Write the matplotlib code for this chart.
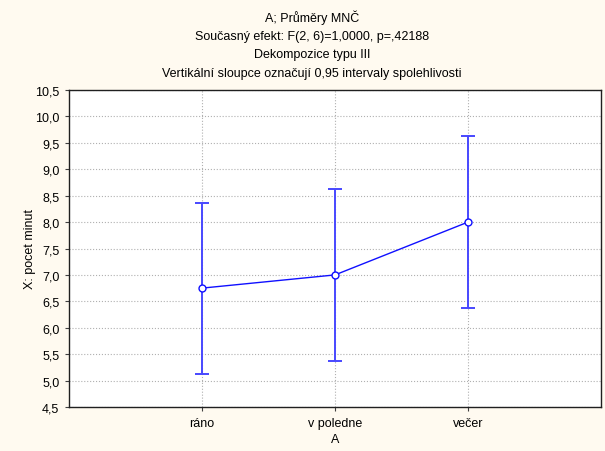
import matplotlib
matplotlib.use("Agg")
import matplotlib.pyplot as plt

# data
categories = ["ráno", "v poledne", "večer"]
means = [6.75, 7.0, 8.0]
ci_low = [5.13, 5.38, 6.38]
ci_high = [8.37, 8.62, 9.62]
yticks = [4.5, 5.0, 5.5, 6.0, 6.5, 7.0, 7.5, 8.0, 8.5, 9.0, 9.5, 10.0, 10.5]

plt.rcParams["font.family"] = ["Liberation Sans", "DejaVu Sans"]
plt.rcParams["font.size"] = 9

bg = "#FFFAF0"
fig = plt.figure(figsize=(6.05, 4.52), dpi=100, facecolor=bg)
ax = fig.add_axes([69 / 605, 1 - 408 / 452, (601 - 69) / 605, (408 - 91) / 452])
ax.set_facecolor("white")

x = list(range(1, len(categories) + 1))
err_lo = [m - l for m, l in zip(means, ci_low)]
err_hi = [h - m for m, h in zip(means, ci_high)]

# error bars
ax.errorbar(x, means, yerr=[err_lo, err_hi], fmt="none", ecolor="#4848FF",
            elinewidth=1.4, capsize=5, capthick=1.4, zorder=3)
# means
ax.plot(x, means, color="#1010FF", lw=1, marker="o", ms=5,
        mfc="white", mec="#1010FF", mew=1, zorder=4)

ax.set_xlim(0, 4)
ax.set_ylim(4.5, 10.5)
ax.set_xticks(x)
ax.set_xticklabels(categories)
ax.set_yticks(yticks)
ax.set_yticklabels([f"{v:.1f}".replace(".", ",") for v in yticks])
ax.grid(True, color="#B0B0B0", linestyle=":", linewidth=0.8)
ax.set_axisbelow(True)
ax.tick_params(length=3, width=0.8, color="#404040", pad=4)
for s in ax.spines.values():
    s.set_color("#202020")
    s.set_linewidth(1)

ax.set_xlabel("A", labelpad=3)
ax.set_ylabel("X: pocet minut", labelpad=-1)

titles = ["A; Průměry MNČ",
          "Současný efekt: F(2, 6)=1,0000, p=,42188",
          "Dekompozice typu III",
          "Vertikální sloupce označují 0,95 intervaly spolehlivosti"]
for i, t in enumerate(titles):
    fig.text(312 / 605, 1 - (18 + i * 18.7) / 452, t,
             ha="center", va="center")

fig.savefig("out.png", dpi=100, facecolor=bg)
